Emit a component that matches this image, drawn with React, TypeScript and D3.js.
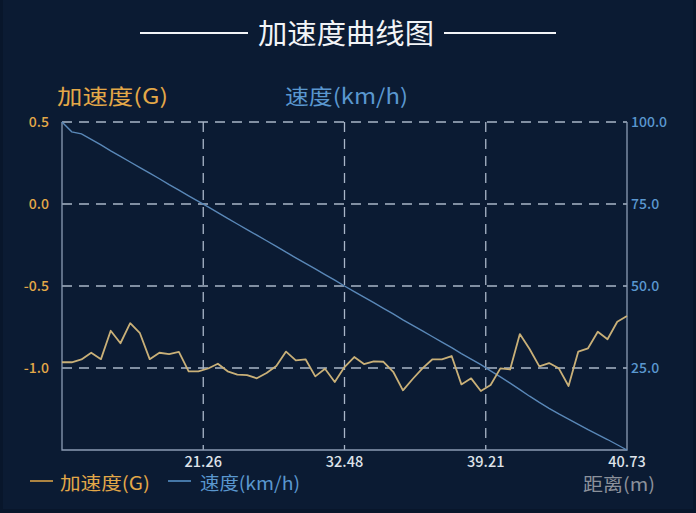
import React, { useRef, useEffect } from 'react';
import * as d3 from 'd3';

// acceleration (G) per sample
const accel = [
  -0.965, -0.965, -0.948, -0.907, -0.946, -0.773, -0.849, -0.727, -0.788, -0.946,
  -0.907, -0.915, -0.902, -1.021, -1.02, -1.003, -0.974, -1.02, -1.04, -1.043,
  -1.063, -1.03, -0.988, -0.9, -0.954, -0.947, -1.051, -1.005, -1.085, -0.994,
  -0.933, -0.976, -0.959, -0.962, -1.023, -1.136, -1.067, -1.002, -0.948, -0.947,
  -0.927, -1.1, -1.063, -1.14, -1.104, -1.002, -1.009, -0.793, -0.884, -0.99,
  -0.97, -1.002, -1.11, -0.9, -0.88, -0.779, -0.825, -0.718, -0.683,
];

// speed (km/h) per sample
const speed = [
  100, 97.0, 96.4, 94.7, 93.0, 91.2, 89.5, 87.8, 86.1, 84.4,
  82.7, 80.9, 79.2, 77.5, 75.8, 74.1, 72.4, 70.6, 68.9, 67.2,
  65.5, 63.8, 62.1, 60.3, 58.6, 56.9, 55.2, 53.5, 51.8, 50.0,
  48.3, 46.6, 44.9, 43.2, 41.5, 39.7, 38.0, 36.3, 34.6, 32.9,
  31.2, 29.4, 27.7, 26.0, 24.1, 22.3, 20.4, 18.4, 16.4, 14.5,
  12.7, 11.0, 9.4, 7.8, 6.2, 4.7, 3.2, 1.6, 0,
];

const distanceLabels = ['21.26', '32.48', '39.21', '40.73'];
const accelTicks = [0.5, 0.0, -0.5, -1.0];
const speedTicks = [100, 75, 50, 25];

const W = 696;
const H = 513;
const FONT = '"Noto Sans CJK SC", "Noto Sans", sans-serif';
const GOLD = '#e3a848';
const BLUE = '#5a97cf';

const App: React.FC = () => {
  const svgRef = useRef<SVGSVGElement | null>(null);

  useEffect(() => {
    if (!svgRef.current) return;
    const svg = d3.select(svgRef.current);
    svg.selectAll('*').remove();

    const left = 62, right = 627, top = 122, bottom = 450;
    const n = accel.length;

    const x = d3.scaleLinear().domain([0, n - 1]).range([left, right]);
    const yA = d3.scaleLinear().domain([-1.5, 0.5]).range([bottom, top]);
    const yS = d3.scaleLinear().domain([0, 100]).range([bottom, top]);

    svg.append('rect').attr('width', W).attr('height', H).attr('fill', '#08162b');
    svg.append('rect').attr('x', 3).attr('y', 0).attr('width', W - 6).attr('height', H - 4)
      .attr('fill', '#0b1b33');

    // title
    svg.append('text')
      .attr('x', 258).attr('y', 44)
      .attr('fill', '#f2f4f7')
      .attr('font-size', 28)
      .attr('font-family', FONT)
      .attr('textLength', 176)
      .attr('lengthAdjust', 'spacingAndGlyphs')
      .text('加速度曲线图');
    svg.append('line').attr('x1', 140).attr('x2', 248).attr('y1', 33).attr('y2', 33)
      .attr('stroke', '#f2f4f7').attr('stroke-width', 2);
    svg.append('line').attr('x1', 444).attr('x2', 556).attr('y1', 33).attr('y2', 33)
      .attr('stroke', '#f2f4f7').attr('stroke-width', 2);

    // axis names
    svg.append('text').attr('x', 57).attr('y', 104).attr('fill', GOLD)
      .attr('font-size', 21).attr('font-family', FONT)
      .attr('textLength', 111).attr('lengthAdjust', 'spacingAndGlyphs')
      .text('加速度(G)');
    svg.append('text').attr('x', 285).attr('y', 104).attr('fill', BLUE)
      .attr('font-size', 21).attr('font-family', FONT)
      .attr('textLength', 123).attr('lengthAdjust', 'spacingAndGlyphs')
      .text('速度(km/h)');

    // horizontal grid
    const grid = svg.append('g');
    grid.selectAll('.hgrid')
      .data(accelTicks)
      .join('line')
      .attr('x1', left).attr('x2', right)
      .attr('y1', d => yA(d)).attr('y2', d => yA(d))
      .attr('stroke', '#a9b6c8')
      .attr('stroke-width', 1.3)
      .attr('stroke-dasharray', '10,7');

    // vertical grid at quarter positions
    const xTickPos = distanceLabels.map((_, i) => ((n - 1) * (i + 1)) / distanceLabels.length);
    grid.selectAll('.vgrid')
      .data(xTickPos.slice(0, -1))
      .join('line')
      .attr('x1', d => x(d)).attr('x2', d => x(d))
      .attr('y1', top).attr('y2', bottom)
      .attr('stroke', '#a9b6c8')
      .attr('stroke-width', 1.3)
      .attr('stroke-dasharray', '10,7');

    // axes lines
    svg.append('path')
      .attr('d', `M${left},${top}V${bottom}H${right}V${top}`)
      .attr('fill', 'none')
      .attr('stroke', '#8c9cb4')
      .attr('stroke-width', 1.3);

    // left ticks
    svg.selectAll('.ltick')
      .data(accelTicks)
      .join('text')
      .attr('x', 49).attr('y', d => yA(d))
      .attr('dy', '0.35em')
      .attr('text-anchor', 'end')
      .attr('fill', GOLD)
      .attr('font-size', 14)
      .attr('font-weight', 500)
      .attr('font-family', FONT)
      .text(d => d.toFixed(1));

    // right ticks
    svg.selectAll('.rtick')
      .data(speedTicks)
      .join('text')
      .attr('x', 631).attr('y', d => yS(d))
      .attr('dy', '0.35em')
      .attr('fill', BLUE)
      .attr('font-size', 14)
      .attr('font-weight', 500)
      .attr('font-family', FONT)
      .text(d => d.toFixed(1));

    // bottom ticks
    svg.selectAll('.btick')
      .data(xTickPos)
      .join('text')
      .attr('x', d => x(d)).attr('y', 467)
      .attr('text-anchor', 'middle')
      .attr('fill', '#dfe3ea')
      .attr('font-size', 14.5)
      .attr('font-weight', 500)
      .attr('font-family', FONT)
      .text((_, i) => distanceLabels[i]);

    svg.append('text').attr('x', 583).attr('y', 491)
      .attr('fill', '#8b919b').attr('font-size', 18).attr('font-family', FONT)
      .attr('textLength', 72).attr('lengthAdjust', 'spacingAndGlyphs')
      .text('距离(m)');

    // series
    const speedLine = d3.line<number>().x((_, i) => x(i)).y(d => yS(d));
    svg.append('path').datum(speed)
      .attr('d', speedLine)
      .attr('fill', 'none')
      .attr('stroke', '#5a88b8')
      .attr('stroke-width', 1.4);

    const accelLine = d3.line<number>().x((_, i) => x(i)).y(d => yA(d));
    svg.append('path').datum(accel)
      .attr('d', accelLine)
      .attr('fill', 'none')
      .attr('stroke', '#c9b078')
      .attr('stroke-width', 1.8)
      .attr('stroke-linejoin', 'round');

    // legend
    const legend = [
      { label: '加速度(G)', color: GOLD, lx: 30, tx: 60, w: 90 },
      { label: '速度(km/h)', color: BLUE, lx: 168, tx: 200, w: 100 },
    ];
    legend.forEach(l => {
      svg.append('line').attr('x1', l.lx).attr('x2', l.lx + 23).attr('y1', 481).attr('y2', 481)
        .attr('stroke', l.color).attr('stroke-width', 1.5);
      svg.append('text').attr('x', l.tx).attr('y', 490).attr('fill', l.color)
        .attr('font-size', 18).attr('font-family', FONT)
        .attr('textLength', l.w).attr('lengthAdjust', 'spacingAndGlyphs')
        .text(l.label);
    });
  }, []);

  return (
    <svg
      ref={svgRef}
      width={W}
      height={H}
      style={{ position: 'absolute', left: 0, top: 0, display: 'block' }}
    />
  );
};

export default App;
